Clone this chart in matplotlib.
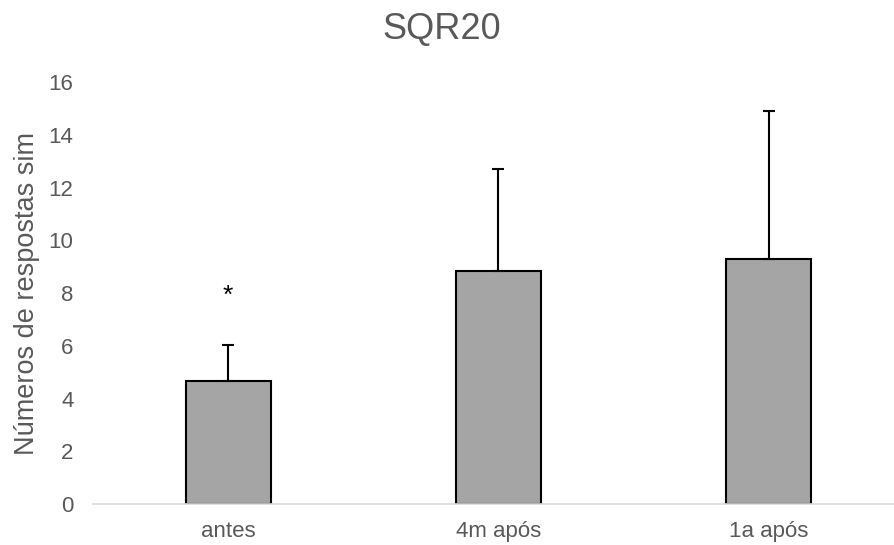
import numpy as np
import matplotlib
matplotlib.use("Agg")
import matplotlib.pyplot as plt

# data
categories = ["antes", "4m após", "1a após"]
means = [4.65, 8.83, 9.28]
err_up = [1.37, 3.86, 5.61]
marks = ["*", "", ""]

plt.rcParams['font.family'] = ['Liberation Sans', 'DejaVu Sans']
text_grey = '#595959'

fig = plt.figure(figsize=(8.94, 5.45), dpi=100)
ax = fig.add_axes([0.104, 0.0752, 0.907, 0.7743])  # runs off the right edge like the original

x = np.arange(len(categories))
ax.bar(x, means, width=0.315, color='#a5a5a5', edgecolor='black', linewidth=1.5,
       zorder=2)
ax.errorbar(x, means, yerr=[np.zeros(len(means)), err_up], fmt='none',
            ecolor='black', elinewidth=1.5, capsize=4, capthick=1.5, zorder=3)

# significance mark above the error bar
for xi, m, e, s in zip(x, means, err_up, marks):
    if s:
        ax.text(xi, m + e + 1.6, s, ha='center', va='baseline', fontsize=19,
                color='black')

ax.set_xlim(-0.5, len(categories) - 0.5)
ax.set_ylim(0, 16)
ax.set_yticks(range(0, 17, 2))
ax.set_xticks(x)
ax.set_xticklabels(categories)

for side in ['top', 'right', 'left']:
    ax.spines[side].set_visible(False)
ax.spines['bottom'].set_color('#d9d9d9')
ax.spines['bottom'].set_linewidth(1.2)
ax.tick_params(axis='both', length=0, labelsize=16, colors=text_grey)
ax.tick_params(axis='y', pad=14)
ax.tick_params(axis='x', pad=12)

ax.set_ylabel("Números de respostas sim", fontsize=19.5, color=text_grey, labelpad=6)
fig.text(442 / 894, 1 - 29 / 545, "SQR20", ha='center', va='center', fontsize=26,
         color=text_grey)

fig.savefig("out.png", dpi=100)
